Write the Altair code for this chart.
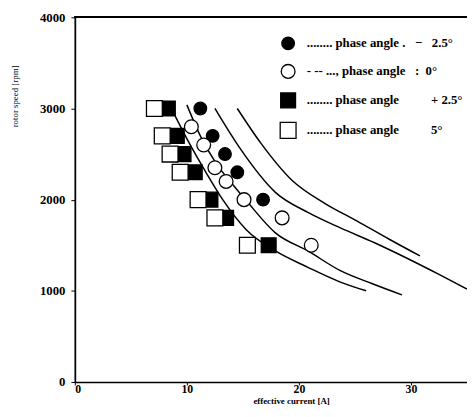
import altair as alt
import pandas as pd

# ---- measured points (effective current [A], rotor speed [rpm]) ----
sq_open_x = [7.1, 7.8, 8.5, 9.4, 11.0, 12.5, 15.4]
sq_open_y = [3000, 2700, 2500, 2300, 2000, 1800, 1500]
sq_fill_x = [8.3, 9.1, 9.7, 10.7, 12.1, 13.5, 17.3]
sq_fill_y = [3000, 2700, 2500, 2300, 2000, 1800, 1500]
ci_open_x = [10.4, 11.5, 12.5, 13.5, 15.1, 18.5, 21.1]
ci_open_y = [2800, 2600, 2350, 2200, 2000, 1800, 1500]
ci_fill_x = [11.2, 12.3, 13.4, 14.5, 16.8]
ci_fill_y = [3000, 2700, 2500, 2300, 2000]

# ---- calculated curves ----
curve_a_x = [8.7, 10.3, 11.7, 13.2, 15.3, 17.9, 20.8, 23.7, 26.0]
curve_a_y = [2980, 2600, 2300, 2000, 1670, 1437, 1258, 1096, 1000]
curve_b_x = [10.0, 11.2, 12.6, 14.2, 15.3, 17.9, 20.8, 23.7, 26.5, 29.2]
curve_b_y = [3040, 2700, 2400, 2150, 1990, 1636, 1437, 1221, 1080, 955]
curve_c_x = [12.5, 14.7, 17.9, 20.8, 23.7, 26.7, 29.6, 32.5, 35.0]
curve_c_y = [3000, 2570, 2080, 1860, 1690, 1530, 1360, 1180, 1020]
curve_d_x = [14.5, 16.6, 19.4, 22.3, 25.2, 28.1, 30.8]
curve_d_y = [3000, 2620, 2210, 1960, 1765, 1563, 1383]

NB = "\u00a0"
series_names = [
    "........" + NB + "phase angle" + NB + "." + NB * 3 + "\u2212" + NB * 3 + "2.5\u00b0",
    "- -- ...," + NB + "phase angle" + NB * 3 + ":" + NB * 2 + "0\u00b0",
    "........" + NB + "phase angle" + NB * 10 + "+ 2.5\u00b0",
    "........" + NB + "phase angle" + NB * 10 + "5\u00b0",
]
x_ticks = [0, 10, 20, 30]
y_ticks = [0, 1000, 2000, 3000, 4000]

rows = []
for name, xs, ys in [
    (series_names[0], ci_fill_x, ci_fill_y),
    (series_names[1], ci_open_x, ci_open_y),
    (series_names[2], sq_fill_x, sq_fill_y),
    (series_names[3], sq_open_x, sq_open_y),
]:
    for xv, yv in zip(xs, ys):
        rows.append({"x": xv, "y": yv, "series": name})
pts = pd.DataFrame(rows)

lrows = []
for cname, xs, ys in [("a", curve_a_x, curve_a_y), ("b", curve_b_x, curve_b_y),
                      ("c", curve_c_x, curve_c_y), ("d", curve_d_x, curve_d_y)]:
    for i, (xv, yv) in enumerate(zip(xs, ys)):
        lrows.append({"x": xv, "y": yv, "curve": cname, "o": i})
lines_df = pd.DataFrame(lrows)

FONT = "Liberation Serif"

xscale = alt.Scale(domain=[0, 35], nice=False, zero=False)
yscale = alt.Scale(domain=[0, 4000], nice=False)

xaxis = alt.Axis(values=x_ticks, title="effective current [A]", format="d",
                 labelFont=FONT, labelFontSize=12, labelFontWeight="bold",
                 labelPadding=-1, tickSize=3, tickColor="black",
                 domainColor="black", domainWidth=1.6,
                 titleFont=FONT, titleFontSize=9, titleFontWeight="bold",
                 titleX=220, titleY=19, titleBaseline="middle", titleAnchor="start",
                 titleAlign="center", grid=False, labelColor="black", titleColor="black")
yaxis = alt.Axis(values=y_ticks, title="rotor speed [rpm]", format="d",
                 labelFont=FONT, labelFontSize=13, labelFontWeight="bold",
                 labelPadding=6, tickSize=4, tickColor="black",
                 domainColor="black", domainWidth=1.8,
                 titleFont=FONT, titleFontSize=9, titleFontWeight="normal",
                 titleAngle=-90, titleX=-61, titleY=80, titleAlign="center",
                 titleBaseline="middle", titleAnchor="start",
                 grid=False, labelColor="black", titleColor="black")

curves = alt.Chart(lines_df).mark_line(color="black", strokeWidth=1.5,
                                       interpolate="monotone").encode(
    x=alt.X("x:Q", scale=xscale, axis=xaxis),
    y=alt.Y("y:Q", scale=yscale, axis=yaxis),
    detail="curve:N",
    order="o:Q",
)

legend = alt.Legend(title=None, orient="none", legendX=208, legendY=19,
                    symbolStrokeWidth=1.3,
                    labelFont=FONT, labelFontSize=13,
                    labelFontWeight="bold", labelColor="black",
                    rowPadding=9, labelOffset=10, padding=0, labelLimit=300)

points = alt.Chart(pts).mark_point(filled=True, strokeWidth=1.3).encode(
    x=alt.X("x:Q", scale=xscale),
    y=alt.Y("y:Q", scale=yscale),
    shape=alt.Shape("series:N", sort=series_names,
                    scale=alt.Scale(domain=series_names,
                                    range=["circle", "circle", "square", "square"]),
                    legend=legend),
    fill=alt.Fill("series:N", sort=series_names,
                  scale=alt.Scale(domain=series_names,
                                  range=["black", "white", "black", "white"]),
                  legend=legend),
    stroke=alt.Stroke("series:N", sort=series_names,
                      scale=alt.Scale(domain=series_names,
                                      range=["black", "black", "black", "black"]),
                      legend=legend),
    size=alt.Size("series:N", sort=series_names,
                  scale=alt.Scale(domain=series_names, range=[165, 260, 160, 145]),
                  legend=legend),
    opacity=alt.value(1),
)

top = alt.Chart(pts).mark_rule(color="black", strokeWidth=1.6).encode(
    y=alt.datum(4000)
)

chart = alt.layer(curves, points, top).properties(
    width=399, height=371,
    padding={"left": 68, "top": 6, "right": 0, "bottom": 24},
    autosize=alt.AutoSizeParams(type="none"),
    background="white",
).configure_view(stroke=None)

chart.save("out.html", embed_options={"renderer": "svg", "actions": False})
